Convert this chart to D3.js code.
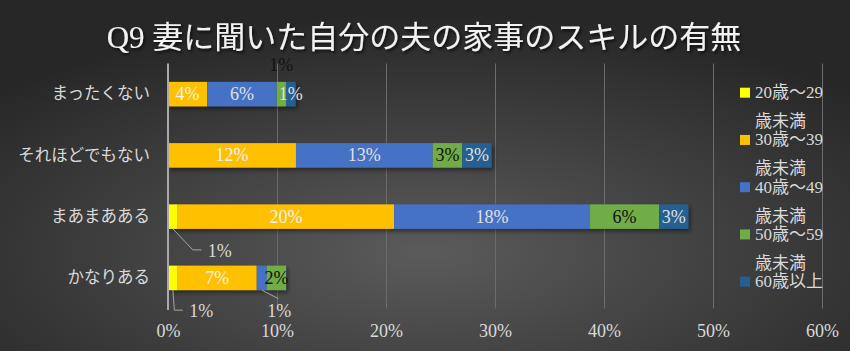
<!DOCTYPE html>
<html><head><meta charset="utf-8">
<script src="https://cdn.jsdelivr.net/npm/d3@7"></script>
<style>html,body{margin:0;padding:0;background:#333;}svg{display:block;}</style>
</head><body>
<svg id="c" width="850" height="351"></svg>
<script>
const title = "Q9 妻に聞いた自分の夫の家事のスキルの有無";
const categories = ["まったくない", "それほどでもない", "まあまあある", "かなりある"];
const seriesNames = ["20歳～29歳未満", "30歳～39歳未満", "40歳～49歳未満", "50歳～59歳未満", "60歳以上"];
const s20 = [0, 0, 0.89, 0.89];
const s30 = [3.6, 11.74, 19.85, 7.25];
const s40 = [6.37, 12.54, 17.98, 0.92];
const s50 = [0.85, 2.72, 6.33, 1.77];
const s60 = [0.89, 2.69, 2.69, 0];
const xTicks = [0, 10, 20, 30, 40, 50, 60];

const colors = ["#FFFF00", "#FFC000", "#4472C4", "#70AD47", "#255E91"];
const labelColors = ["#f2f2f2", "#f2f2f2", "#e0e0e0", "#111111", "#e0e0e0"];
const seriesValues = [s20, s30, s40, s50, s60];

// label placement tweaks (layout, not data): key "cat|seriesIndex"
const callouts = {
  "まったくない|3": {type: "above", dy: -29.5},
  "まあまあある|0": {type: "leader", pts: [[0,0],[20,21],[28.5,21]], tx: 35, ty: 22, anchor: "start"},
  "かなりある|0": {type: "leader", pts: [[0,0],[1.5,20],[10,20]], tx: 16.5, ty: 20.5, anchor: "start"},
  "かなりある|2": {type: "leader", pts: [[0,0],[16.5,8.5]], tx: 17.5, ty: 20.5, anchor: "middle"}
};

const svg = d3.select("#c");
const W = 850, H = 351;
const defs = svg.append("defs");
const rg = defs.append("radialGradient").attr("id", "bg").attr("cx", "50%").attr("cy", "72%").attr("r", "68%");
rg.append("stop").attr("offset", "0%").attr("stop-color", "#5b5b5b");
rg.append("stop").attr("offset", "100%").attr("stop-color", "#272727");
const f1 = defs.append("filter").attr("id", "bs").attr("x", "-5%").attr("y", "-30%").attr("width", "110%").attr("height", "160%");
f1.append("feDropShadow").attr("dx", 2).attr("dy", 2.5).attr("stdDeviation", 2).attr("flood-color", "#000").attr("flood-opacity", 0.45);
const f2 = defs.append("filter").attr("id", "ts").attr("x", "-5%").attr("y", "-30%").attr("width", "110%").attr("height", "160%");
f2.append("feDropShadow").attr("dx", 1.5).attr("dy", 2).attr("stdDeviation", 1.5).attr("flood-color", "#000").attr("flood-opacity", 0.7);

svg.append("rect").attr("width", W).attr("height", H).attr("fill", "url(#bg)");

const x = d3.scaleLinear().domain([0, 60]).range([168, 822]);
const y = d3.scaleBand().domain(categories).range([63.5, 308.5]).paddingInner(0.6).paddingOuter(0.3);

// gridlines
const grid = svg.append("g").attr("transform", `translate(0,${y.range()[1]})`)
  .call(d3.axisBottom(x).tickValues(xTicks.slice(1)).tickSize(-(y.range()[1] - y.range()[0])).tickFormat(""));
grid.select(".domain").remove();
grid.selectAll("line").attr("stroke", "#6c6c6c").attr("stroke-width", 1);

// x axis labels
const xa = svg.append("g").attr("transform", `translate(0,${y.range()[1]})`)
  .call(d3.axisBottom(x).tickValues(xTicks).tickSize(0).tickPadding(16).tickFormat(d => d + "%"));
xa.select(".domain").remove();
xa.selectAll("text").attr("fill", "#d9d9d9").style("font-family", "'Liberation Serif', serif").style("font-size", "18px");

// stacked data
const rows = categories.map((c, i) => {
  let acc = 0;
  return seriesValues.map((s, k) => {
    const v = s[i]; const x0 = acc; acc += v;
    return {cat: c, k, v, x0, x1: acc};
  });
});

const bars = svg.append("g").attr("filter", "url(#bs)");
rows.forEach(r => {
  bars.selectAll(null).data(r.filter(d => d.v > 0)).enter().append("rect")
    .attr("x", d => x(d.x0)).attr("y", d => y(d.cat))
    .attr("width", d => x(d.x1) - x(d.x0)).attr("height", y.bandwidth())
    .attr("fill", d => colors[d.k]);
});

// y axis
const ya = svg.append("g").attr("transform", `translate(${x(0)},0)`)
  .call(d3.axisLeft(y).tickSize(0).tickPadding(18));
ya.select(".domain").attr("stroke", "#a9a9a9").attr("stroke-width", 2)
  .attr("d", `M0,${y.range()[0]}V${y.range()[1] + 1.5}`);
ya.selectAll("text").attr("fill", "#d9d9d9").style("font-family", "'Noto Sans CJK JP', sans-serif").style("font-size", "16.5px");

// data labels
const lab = svg.append("g").style("font-family", "'Liberation Serif', serif").style("font-size", "18px");
rows.flat().filter(d => d.v > 0).forEach(d => {
  const cx = (x(d.x0) + x(d.x1)) / 2;
  const cy = y(d.cat) + y.bandwidth() / 2;
  const txt = Math.round(d.v) + "%";
  const co = callouts[d.cat + "|" + d.k];
  if (!co) {
    lab.append("text").attr("x", cx).attr("y", cy).attr("text-anchor", "middle")
      .attr("dominant-baseline", "central").attr("fill", labelColors[d.k]).text(txt);
  } else if (co.type === "above") {
    lab.append("text").attr("x", cx).attr("y", cy + co.dy).attr("text-anchor", "middle")
      .attr("dominant-baseline", "central").attr("fill", labelColors[d.k]).text(txt);
  } else {
    const bx = cx, by = y(d.cat) + y.bandwidth();
    lab.append("path").attr("d", d3.line()(co.pts.map(p => [bx + p[0], by + p[1]])))
      .attr("fill", "none").attr("stroke", "#a6a6a6").attr("stroke-width", 1);
    lab.append("text").attr("x", bx + co.tx).attr("y", by + co.ty).attr("text-anchor", co.anchor)
      .attr("dominant-baseline", "central").attr("fill", "#d9d9d9").text(txt);
  }
});

// legend
const lg = svg.append("g").attr("transform", "translate(740,92.7)");
seriesNames.forEach((n, i) => {
  const g = lg.append("g").attr("transform", `translate(0,${i * 47.25})`);
  g.append("rect").attr("x", 0).attr("y", -5).attr("width", 10).attr("height", 10).attr("fill", colors[i]);
  const lines = n.length > 6 ? [n.slice(0, 6), n.slice(6)] : [n];
  lines.forEach((t, j) => {
    g.append("text").attr("x", 15).attr("y", j * 29).attr("dominant-baseline", "central")
      .attr("fill", "#d9d9d9").style("font-family", "'Liberation Serif', 'Noto Sans CJK JP', serif")
      .style("font-size", "17px").text(t);
  });
});

// title
svg.append("text").attr("x", 424).attr("y", 37).attr("text-anchor", "middle").attr("dominant-baseline", "central")
  .attr("fill", "#f2f2f2").attr("filter", "url(#ts)")
  .style("font-family", "'Liberation Serif', 'Noto Sans CJK JP', serif").style("font-size", "31px").text(title);
</script>
</body></html>
